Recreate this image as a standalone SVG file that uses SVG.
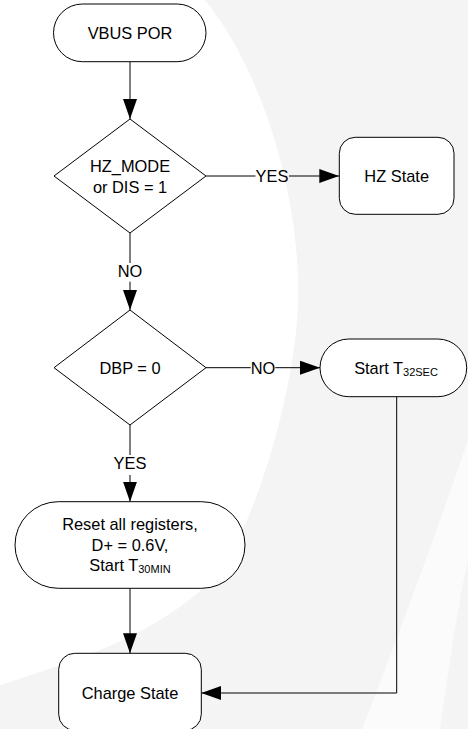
<svg xmlns="http://www.w3.org/2000/svg" width="468" height="729" viewBox="0 0 468 729">
<style>
.shape{fill:#fff;stroke:#000;stroke-width:1}
.line{fill:none;stroke:#000;stroke-width:1}
text{font-family:"Liberation Sans",Arial,sans-serif;font-size:16.4px;fill:#000;text-anchor:middle}
.sub{font-size:11px}
</style>
<defs>
<marker id="arr" markerUnits="userSpaceOnUse" viewBox="0 -7 20 14" refX="20" refY="0" markerWidth="20" markerHeight="14" orient="auto">
<path d="M0,-7 L20,0 L0,7 Z" fill="#000"/>
</marker>
</defs>
<rect width="468" height="729" fill="#fff"/>
<g id="watermark">
<path d="M205,0 C270,80 310,230 295,340 C285,420 255,520 220,570 C170,630 80,660 0,685 L0,729 L468,729 L468,0 Z" fill="#f4f4f4"/>
<path d="M468,440 Q420,580 362,729 L440,729 Q455,620 468,560 Z" fill="#fff" opacity="0.6"/>
</g>
<g id="connectors">
<path class="line" d="M130,61.7 V119" marker-end="url(#arr)"/>
<path class="line" d="M206,176 H255.5"/>
<path class="line" d="M289,176 H339.3" marker-end="url(#arr)"/>
<text x="272" y="182">YES</text>
<path class="line" d="M130,233 V263"/>
<path class="line" d="M130,281.7 V310" marker-end="url(#arr)"/>
<text x="130" y="277">NO</text>
<path class="line" d="M206,367.7 H250.7"/>
<path class="line" d="M275.3,367.7 H320" marker-end="url(#arr)"/>
<text x="263" y="373.5">NO</text>
<path class="line" d="M130,425 V455"/>
<path class="line" d="M130,475 V501.7" marker-end="url(#arr)"/>
<text x="130" y="469">YES</text>
<path class="line" d="M130,588.3 V653.3" marker-end="url(#arr)"/>
<path class="line" d="M396.7,396.7 V693 H201.3" marker-end="url(#arr)"/>
</g>
<g id="vbus-por">
<rect class="shape" x="53.5" y="4" width="152.5" height="57.7" rx="28.8"/>
<text x="130" y="39">VBUS POR</text>
</g>
<g id="decision-hz">
<path class="shape" d="M130,119 L206,176 L130,233 L54,176 Z"/>
<text x="130" y="172">HZ_MODE</text>
<text x="130" y="193">or DIS = 1</text>
</g>
<g id="hz-state">
<rect class="shape" x="339.3" y="137.3" width="114.7" height="77" rx="16"/>
<text x="396.7" y="182">HZ State</text>
</g>
<g id="decision-dbp">
<path class="shape" d="M130,310 L206,367.7 L130,425 L54,367.7 Z"/>
<text x="130" y="373.5">DBP = 0</text>
</g>
<g id="start-t32sec">
<rect class="shape" x="320" y="339" width="146.7" height="57.7" rx="28.8"/>
<text x="396" y="373.5">Start T<tspan class="sub" dy="2">32SEC</tspan></text>
</g>
<g id="reset">
<rect class="shape" x="15" y="501.7" width="230" height="86.6" rx="43.3"/>
<text x="130" y="530">Reset all registers,</text>
<text x="130" y="550.5">D+ = 0.6V,</text>
<text x="130" y="571">Start T<tspan class="sub" dy="2">30MIN</tspan></text>
</g>
<g id="charge-state">
<rect class="shape" x="58.7" y="653.3" width="142.6" height="77" rx="16"/>
<text x="130" y="699">Charge State</text>
</g>
</svg>
